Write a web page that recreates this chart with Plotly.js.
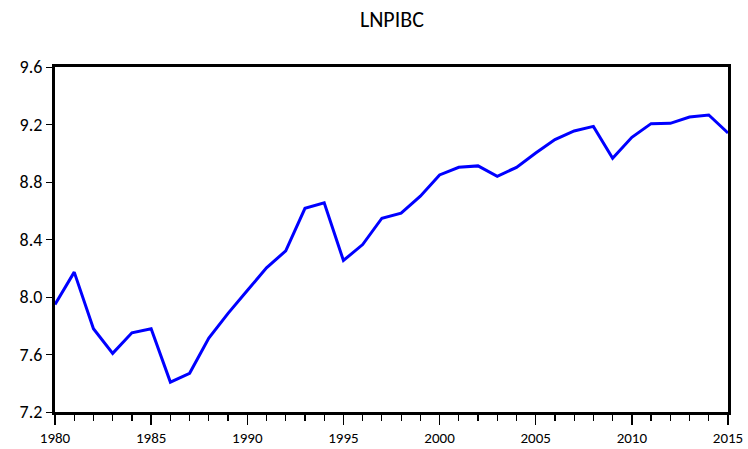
<!DOCTYPE html>
<html>
<head>
<meta charset="utf-8">
<script src="https://cdn.plot.ly/plotly-3.0.1.min.js"></script>
<style>html,body{margin:0;padding:0;background:#fff;}#chart{width:748px;height:449px;}</style>
</head>
<body>
<div id="chart"></div>
<script>
const years = [1980,1981,1982,1983,1984,1985,1986,1987,1988,1989,1990,1991,1992,1993,1994,1995,1996,1997,1998,1999,2000,2001,2002,2003,2004,2005,2006,2007,2008,2009,2010,2011,2012,2013,2014,2015];
const lnpibc = [7.948,8.173,7.779,7.608,7.751,7.779,7.408,7.469,7.714,7.886,8.045,8.203,8.321,8.617,8.655,8.254,8.365,8.548,8.583,8.701,8.849,8.902,8.912,8.840,8.902,9.002,9.095,9.155,9.187,8.965,9.111,9.206,9.208,9.252,9.266,9.141];
const yTicks = [7.2,7.6,8.0,8.4,8.8,9.2,9.6];
const yTickText = ["7.2","7.6","8.0","8.4","8.8","9.2","9.6"];
const xTicks = [1980,1985,1990,1995,2000,2005,2010,2015];
const titleText = "LNPIBC";

const font = "Carlito, 'Open Sans', 'Noto Sans', sans-serif";
Plotly.newPlot('chart', [{
  x: years, y: lnpibc, type: 'scatter', mode: 'lines',
  line: {color: '#0000FF', width: 3}
}], {
  width: 748, height: 449,
  margin: {l: 55, r: 20, t: 67, b: 37},
  paper_bgcolor: '#fff', plot_bgcolor: '#fff',
  showlegend: false,
  title: {text: titleText, x: 0.524, xanchor: 'center', y: 0.958, yanchor: 'middle', font: {family: font, size: 22, color: '#000'}},
  xaxis: {
    range: [1980, 2015], tickvals: xTicks, ticktext: xTicks.map(String),
    ticks: 'outside', ticklen: 10, tickwidth: 1.5, tickcolor: '#000',
    minor: {dtick: 1, tick0: 1980, ticks: 'outside', ticklen: 6, tickwidth: 1.2, tickcolor: '#000', showgrid: false},
    showline: true, linewidth: 3, linecolor: '#000', mirror: true,
    showgrid: false, zeroline: false,
    tickfont: {family: font, size: 15, color: '#000'}
  },
  yaxis: {
    range: [7.2, 9.6], tickvals: yTicks, ticktext: yTickText,
    ticks: 'outside', ticklen: 6, tickwidth: 1, tickcolor: '#000',
    showline: true, linewidth: 3, linecolor: '#000', mirror: true,
    showgrid: false, zeroline: false,
    tickfont: {family: font, size: 18, color: '#000'}
  }
}, {displayModeBar: false, staticPlot: true});
</script>
</body>
</html>
